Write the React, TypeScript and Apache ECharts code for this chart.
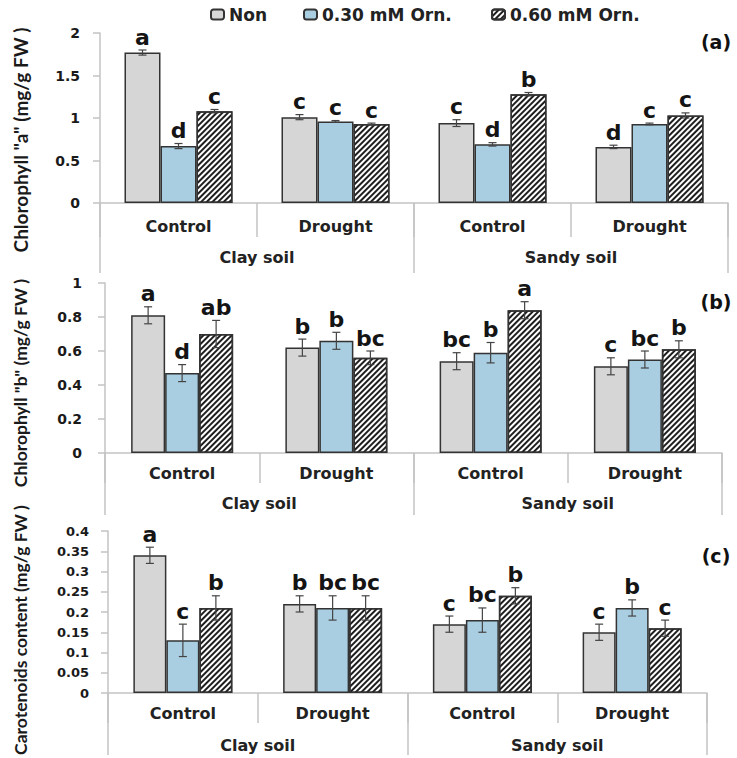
import React, { useEffect, useRef } from "react";
import * as echarts from "echarts";

// ---------- data ----------
const categories = ["Control", "Drought", "Control", "Drought"];
const soils = ["Clay soil", "Sandy soil"];
const treatments = ["Non", "0.30 mM Orn.", "0.60 mM Orn."];

// Panel (a) Chlorophyll "a"
const chlA_non = [1.77, 1.01, 0.94, 0.66];
const chlA_030 = [0.67, 0.96, 0.69, 0.93];
const chlA_060 = [1.08, 0.93, 1.28, 1.03];
const chlA_err_non = [0.03, 0.03, 0.04, 0.02];
const chlA_err_030 = [0.03, 0.01, 0.02, 0.01];
const chlA_err_060 = [0.02, 0.01, 0.02, 0.03];
const chlA_let_non = ["a", "c", "c", "d"];
const chlA_let_030 = ["d", "c", "d", "c"];
const chlA_let_060 = ["c", "c", "b", "c"];

// Panel (b) Chlorophyll "b"
const chlB_non = [0.81, 0.62, 0.54, 0.51];
const chlB_030 = [0.47, 0.66, 0.59, 0.55];
const chlB_060 = [0.7, 0.56, 0.84, 0.61];
const chlB_err_non = [0.05, 0.05, 0.05, 0.05];
const chlB_err_030 = [0.05, 0.05, 0.06, 0.05];
const chlB_err_060 = [0.08, 0.04, 0.05, 0.05];
const chlB_let_non = ["a", "b", "bc", "c"];
const chlB_let_030 = ["d", "b", "b", "bc"];
const chlB_let_060 = ["ab", "bc", "a", "b"];

// Panel (c) Carotenoids
const car_non = [0.34, 0.22, 0.17, 0.15];
const car_030 = [0.13, 0.21, 0.18, 0.21];
const car_060 = [0.21, 0.21, 0.24, 0.16];
const car_err_non = [0.02, 0.02, 0.02, 0.02];
const car_err_030 = [0.04, 0.03, 0.03, 0.02];
const car_err_060 = [0.03, 0.03, 0.02, 0.02];
const car_let_non = ["a", "b", "c", "c"];
const car_let_030 = ["c", "bc", "bc", "b"];
const car_let_060 = ["b", "bc", "b", "c"];

const yAxisNames = [
  'Chlorophyll "a" (mg/g FW )',
  'Chlorophyll "b" (mg/g FW )',
  "Carotenoids content (mg/g FW )",
];
const panelTags = ["(a)", "(b)", "(c)"];
const yMax = [2, 1, 0.4];
const yInterval = [0.5, 0.2, 0.05];

// ---------- styles ----------
const FONT = '"DejaVu Sans", Verdana, sans-serif';
const NAME_FONT = 'Lato, "Open Sans", sans-serif';
const AXIS_COLOR = "#c3c3c3";
const GRAY = "#d6d6d6";
const BLUE = "#a9cde1";
const BORDER = "#333333";

const panels = [
  {
    values: [chlA_non, chlA_030, chlA_060],
    errs: [chlA_err_non, chlA_err_030, chlA_err_060],
    letters: [chlA_let_non, chlA_let_030, chlA_let_060],
    grid: { left: 100, right: 9, top: 33, height: 170 },
    barWidth: 36,
    innerTick: 34,
    outerTick: 70,
    catMargin: 15,
    soilMargin: 46,
    yMargin: 20,
    yFont: 14,
    nameY: 140,
    nameSize: 19,
    tagY: 42,
  },
  {
    values: [chlB_non, chlB_030, chlB_060],
    errs: [chlB_err_non, chlB_err_030, chlB_err_060],
    letters: [chlB_let_non, chlB_let_030, chlB_let_060],
    grid: { left: 105, right: 15, top: 283, height: 170 },
    barWidth: 34,
    innerTick: 30,
    outerTick: 62,
    catMargin: 12,
    soilMargin: 42,
    yMargin: 23,
    yFont: 14,
    nameY: 383,
    nameSize: 17.5,
    tagY: 302,
  },
  {
    values: [car_non, car_030, car_060],
    errs: [car_err_non, car_err_030, car_err_060],
    letters: [car_let_non, car_let_030, car_let_060],
    grid: { left: 108, right: 30, top: 531, height: 162 },
    barWidth: 33,
    innerTick: 30,
    outerTick: 62,
    catMargin: 12,
    soilMargin: 44,
    yMargin: 19,
    yFont: 13,
    nameY: 630,
    nameSize: 17.5,
    tagY: 556,
  },
];

const hatchDecal = {
  symbol: "rect",
  symbolSize: 1,
  color: "#1e1e1e",
  dashArrayX: [1, 0],
  dashArrayY: [1.6, 1.6],
  rotation: -Math.PI / 4,
};

function seriesStyle(t: number) {
  if (t === 0) return { color: GRAY, borderColor: BORDER, borderWidth: 1.5 };
  if (t === 1) return { color: BLUE, borderColor: BORDER, borderWidth: 1.5 };
  return { color: "#ffffff", borderColor: BORDER, borderWidth: 1.5, decal: hatchDecal };
}

function buildOption() {
  const grids: any[] = [];
  const xAxes: any[] = [];
  const yAxes: any[] = [];
  const series: any[] = [];
  const graphics: any[] = [];

  panels.forEach((p, g) => {
    grids.push({ ...p.grid, containLabel: false });
    // inner category axis
    xAxes.push({
      type: "category",
      gridIndex: g,
      data: categories,
      position: "bottom",
      axisLine: { show: true, lineStyle: { color: AXIS_COLOR, width: 1.5 } },
      axisTick: { show: true, length: p.innerTick, lineStyle: { color: AXIS_COLOR, width: 1.5 } },
      axisLabel: {
        margin: p.catMargin,
        fontFamily: FONT,
        fontWeight: "bold",
        fontSize: 16,
        color: "#222",
      },
      splitLine: { show: false },
    });
    // outer soil axis
    xAxes.push({
      type: "category",
      gridIndex: g,
      data: soils,
      position: "bottom",
      axisLine: { show: false },
      axisTick: { show: true, length: p.outerTick, lineStyle: { color: AXIS_COLOR, width: 1.5 } },
      axisLabel: {
        margin: p.soilMargin,
        fontFamily: FONT,
        fontWeight: "bold",
        fontSize: 16,
        color: "#222",
      },
      splitLine: { show: false },
    });
    yAxes.push({
      type: "value",
      gridIndex: g,
      min: 0,
      max: yMax[g],
      interval: yInterval[g],
      axisLine: { show: true, lineStyle: { color: AXIS_COLOR, width: 1.5 } },
      axisTick: { show: true, length: 7, lineStyle: { color: AXIS_COLOR, width: 1.5 } },
      splitLine: { show: false },
      axisLabel: {
        margin: p.yMargin,
        fontFamily: FONT,
        fontWeight: "bold",
        fontSize: p.yFont,
        color: "#1a1a1a",
      },
    });

    const xIdx = g * 2;
    for (let t = 0; t < 3; t++) {
      series.push({
        type: "bar",
        name: treatments[t],
        xAxisIndex: xIdx,
        yAxisIndex: g,
        data: p.values[t],
        barWidth: p.barWidth,
        barGap: "0%",
        itemStyle: seriesStyle(t),
        emphasis: { disabled: true },
      });
    }

    // error bars + significance letters
    const errData: any[] = [];
    for (let t = 0; t < 3; t++) {
      for (let c = 0; c < categories.length; c++) {
        errData.push([c, p.values[t][c], p.errs[t][c], t]);
      }
    }
    const letterLookup = (t: number, c: number) => p.letters[t][c];
    const bw = p.barWidth;
    series.push({
      type: "custom",
      xAxisIndex: xIdx,
      yAxisIndex: g,
      data: errData,
      clip: false,
      z: 10,
      silent: true,
      encode: { x: 0, y: 1 },
      renderItem: (params: any, api: any) => {
        const c = api.value(0);
        const v = api.value(1);
        const e = api.value(2);
        const t = api.value(3);
        const xc = api.coord([c, 0])[0] + (t - 1) * bw;
        const yTop = api.coord([c, v + e])[1];
        const yBot = api.coord([c, v - e])[1];
        const cap = 4;
        const ls = { stroke: "#444", lineWidth: 1.2 };
        const txt = letterLookup(t, c);
        return {
          type: "group",
          children: [
            { type: "line", shape: { x1: xc, y1: yTop, x2: xc, y2: yBot }, style: ls },
            { type: "line", shape: { x1: xc - cap, y1: yTop, x2: xc + cap, y2: yTop }, style: ls },
            { type: "line", shape: { x1: xc - cap, y1: yBot, x2: xc + cap, y2: yBot }, style: ls },
            {
              type: "text",
              x: xc,
              y: yTop - 2,
              style: {
                text: txt,
                fill: "#141414",
                font: `bold 22px ${FONT}`,
                align: "center",
                verticalAlign: "bottom",
                textAlign: "center",
                textVerticalAlign: "bottom",
              },
            },
          ],
        };
      },
    });

    graphics.push({
      type: "text",
      x: 20,
      y: p.nameY,
      rotation: Math.PI / 2,
      style: {
        text: yAxisNames[g],
        fill: "#1a1a1a",
        font: `bold ${p.nameSize}px ${NAME_FONT}`,
        align: "center",
        verticalAlign: "middle",
        textAlign: "center",
        textVerticalAlign: "middle",
      },
    });
    graphics.push({
      type: "text",
      x: 716,
      y: p.tagY,
      style: {
        text: panelTags[g],
        fill: "#111",
        font: `bold 19px ${FONT}`,
        align: "center",
        verticalAlign: "middle",
        textAlign: "center",
        textVerticalAlign: "middle",
      },
    });
  });

  const legendBase = {
    top: 1,
    itemWidth: 13,
    itemHeight: 10,
    textStyle: { fontFamily: FONT, fontWeight: "bold", fontSize: 17, color: "#222" },
    selectedMode: false,
  };

  return {
    animation: false,
    backgroundColor: "#ffffff",
    legend: [
      { ...legendBase, left: 205, data: [treatments[0]] },
      { ...legendBase, left: 298, data: [treatments[1]] },
      { ...legendBase, left: 486, data: [treatments[2]] },
    ],
    grid: grids,
    xAxis: xAxes,
    yAxis: yAxes,
    series,
    graphic: graphics,
  };
}

export default function App() {
  const ref = useRef<HTMLDivElement>(null);
  useEffect(() => {
    if (!ref.current) return;
    const chart = echarts.init(ref.current, undefined, { renderer: "svg" });
    chart.setOption(buildOption() as any);
    return () => chart.dispose();
  }, []);
  return (
    <div
      ref={ref}
      style={{ position: "fixed", left: 0, top: 0, width: 737, height: 758, background: "#fff" }}
    />
  );
}
